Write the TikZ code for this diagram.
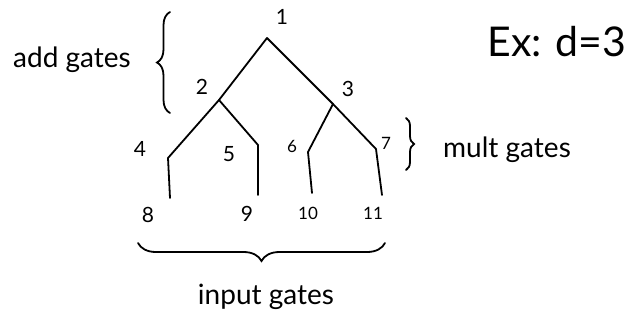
\documentclass[tikz,border=0pt]{standalone}
\usepackage{fontspec}
\setmainfont{Lato}
\usetikzlibrary{decorations.pathreplacing}
\tikzset{
  wire/.style={line width=1.8pt, line cap=round, line join=round},
  num/.style={font=\fontsize{21}{21}\selectfont, inner sep=0pt},
  smallnum/.style={font=\fontsize{17}{17}\selectfont, inner sep=0pt},
  word/.style={font=\fontsize{28}{28}\selectfont, inner sep=0pt},
  bigword/.style={font=\fontsize{41}{41}\selectfont, inner sep=0pt},
  bracestyle/.style={line width=1.8pt, line cap=round, decorate, decoration={brace, amplitude=#1}}
}
\begin{document}
\begin{tikzpicture}[x=1pt, y=-1pt]
\useasboundingbox (0,0) rectangle (635,322);
% gate points
\coordinate (g1) at (267,38);
\coordinate (g2) at (219,100);
\coordinate (g3) at (333,104);
\coordinate (g4) at (168,158);
\coordinate (g5) at (258,145);
\coordinate (g6) at (308,152);
\coordinate (g7) at (376,149);
\coordinate (e8) at (170,198);
\coordinate (e9) at (258,195);
\coordinate (e10) at (312,193);
\coordinate (e11) at (382,195);
% wires
\draw[wire] (g2) -- (g1);
\draw[wire] (g3) -- (g1);
\draw[wire] (g4) -- (g2);
\draw[wire] (g5) -- (g2);
\draw[wire] (g6) -- (g3);
\draw[wire] (g7) -- (g3);
\draw[wire] (g4) -- (e8);
\draw[wire] (g5) -- (e9);
\draw[wire] (g6) -- (e10);
\draw[wire] (g7) -- (e11);
% labels
\node[num] (l1) at (282,17) {1};
\node[num] (l2) at (202,87) {2};
\node[num] (l3) at (348,89) {3};
\node[num] (l4) at (140,149) {4};
\node[num] (l5) at (229,154) {5};
\node[smallnum] (l6) at (292,146) {6};
\node[smallnum] (l7) at (386,143) {7};
\node[num] (l8) at (148,215) {8};
\node[num] (l9) at (247,214) {9};
\node[smallnum] (l10) at (308,213) {10};
\node[smallnum] (l11) at (373,213) {11};
% braces
\coordinate (ab1) at (170,113);
\coordinate (ab2) at (170,12);
\draw[bracestyle=13] (ab1) -- (ab2);
\coordinate (mb1) at (406,118);
\coordinate (mb2) at (406,170);
\draw[bracestyle=8] (mb1) -- (mb2);
\coordinate (ib1) at (385,243);
\coordinate (ib2) at (138,243);
\draw[bracestyle=18] (ib1) -- (ib2);
% words
\node[word] (add) at (72,60) {add gates};
\node[word] (mult) at (507,150) {mult gates};
\node[word] (input) at (266,297) {input gates};
\node[bigword] (ex) at (557,42) {Ex:\,\,d=3};
\end{tikzpicture}
\end{document}
